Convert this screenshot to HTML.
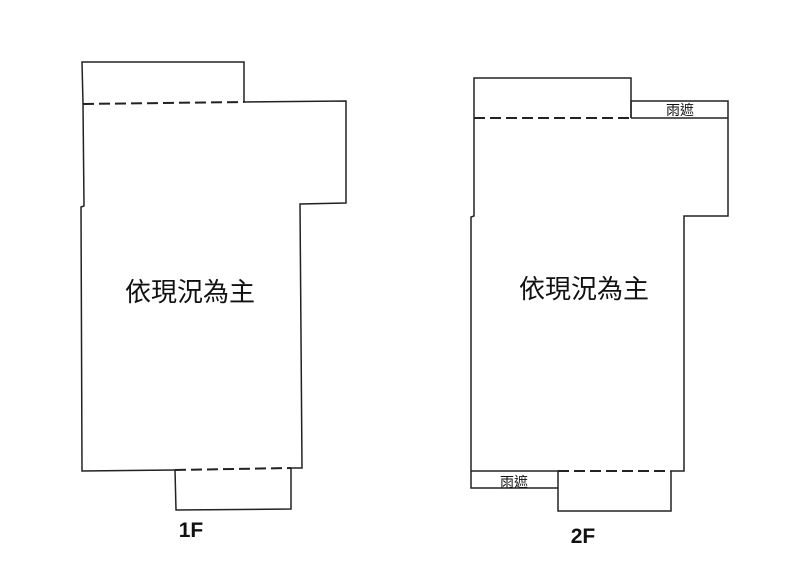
<!DOCTYPE html>
<html><head><meta charset="utf-8"><style>
body{margin:0;background:#fff;}
svg{display:block}
</style></head><body>
<svg width="800" height="574" xmlns="http://www.w3.org/2000/svg">
<g fill="none" stroke="#222" stroke-width="1.5">
<!-- 1F -->
<polyline points="83,104 82,62 244,62 244,102"/>
<line x1="83" y1="104" x2="244" y2="102" stroke-dasharray="11,5" stroke-width="2"/>
<polyline points="244,102 346,101 346,203 300,204 302,468 291,468"/>
<polyline points="83,104 84,206 81,207 82,471 175,470"/>
<line x1="175" y1="470" x2="291" y2="468" stroke-dasharray="11,5" stroke-width="2"/>
<polyline points="175,470 176,510 291,509 291,468"/>
<!-- 2F -->
<polyline points="474,118 474,78 631,78 631,118"/>
<line x1="474" y1="118" x2="631" y2="118" stroke-dasharray="11,5" stroke-width="2"/>
<polyline points="631,118 631,101 728,101 728,216 684,216 684,471 670,471"/>
<line x1="631" y1="118" x2="728" y2="118"/>
<polyline points="474,118 474,216 471,217 471,488 558,488"/>
<line x1="471" y1="471" x2="558" y2="471"/>
<line x1="558" y1="471" x2="670" y2="471" stroke-dasharray="11,5" stroke-width="2"/>
<polyline points="558,471 558,511 671,511 671,471"/>
</g>
<g font-family="Liberation Sans, Noto Sans CJK TC, sans-serif" fill="#111">
<text x="190" y="301" font-size="26" text-anchor="middle">依現況為主</text>
<text x="584" y="298" font-size="26" text-anchor="middle">依現況為主</text>
<text x="680" y="115" font-size="14" text-anchor="middle">雨遮</text>
<text x="514" y="487" font-size="14" text-anchor="middle">雨遮</text>
<text x="191" y="537" font-size="21" font-weight="bold" text-anchor="middle">1F</text>
<text x="583" y="543" font-size="21" font-weight="bold" text-anchor="middle">2F</text>
</g>
</svg>
</body></html>
